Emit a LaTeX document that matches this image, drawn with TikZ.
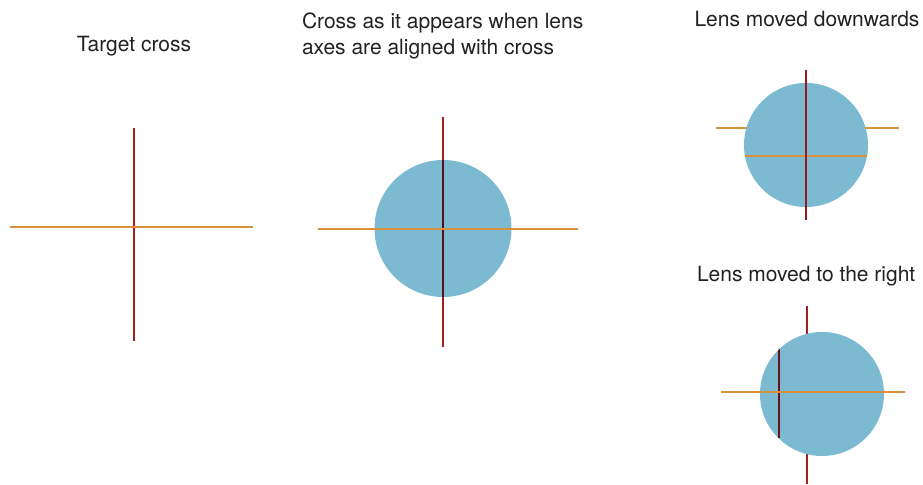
\documentclass[tikz,border=0pt]{standalone}
\usepackage{fontspec}
\setmainfont{TeX Gyre Heros}
\definecolor{lensblue}{HTML}{7BBAD1}
\definecolor{hairred}{HTML}{A51E22}
\definecolor{hairdark}{HTML}{5A1018}
\definecolor{hairorange}{HTML}{D9923A}
\definecolor{captiongray}{HTML}{222222}
\begin{document}
\begin{tikzpicture}[x=.5pt,y=-.5pt,line width=1pt,
  every node/.style={font=\fontsize{10.5}{13}\selectfont,text=captiongray,inner sep=0pt},
  vline/.style={draw=hairred},
  hline/.style={draw=hairorange},
  lens/.style={fill=lensblue}]
  \path[use as bounding box] (0,0) rectangle (923,485);
  % target cross
  \coordinate (T1) at (134,128);
  \coordinate (T2) at (134,341);
  \coordinate (T3) at (10,227);
  \coordinate (T4) at (253,227);
  \draw[vline] (T1)--(T2);
  \draw[hline] (T3)--(T4);
  \node[anchor=base] (ttarget) at (134,51.5) {Target cross};
  % aligned lens
  \coordinate (M) at (443,228.5);
  \coordinate (M1) at (443,117);
  \coordinate (M2) at (443,347);
  \coordinate (M3) at (318,229);
  \coordinate (M4) at (578,229);
  \draw[vline] (M1)--(M2);
  \fill[lens] (M) circle (68.5);
  \draw[draw=hairdark] (443,160)--(443,297);
  \draw[hline] (M3)--(M4);
  \node[anchor=base west,align=left] (taligned) at (301,55)
    {Cross as it appears when lens\\axes are aligned with cross};
  % lens moved downwards
  \coordinate (D) at (806,145);
  \coordinate (D1) at (806,70);
  \coordinate (D2) at (806,220);
  \coordinate (D3) at (716,128.5);
  \coordinate (D4) at (899,128.5);
  \draw[hline] (D3)--(D4);
  \fill[lens] (D) circle (62);
  \begin{scope}
    \clip (D) circle (62);
    \draw[hline] (740,156)--(872,156);
  \end{scope}
  \draw[vline,draw=hairred!90!black] (D1)--(D2);
  \node[anchor=base west] (tdown) at (693.5,26.5) {Lens moved downwards};
  % lens moved to the right
  \coordinate (R) at (822,394);
  \coordinate (R1) at (807,306);
  \coordinate (R2) at (807,484);
  \coordinate (R3) at (721,392.5);
  \coordinate (R4) at (905,392.5);
  \draw[vline] (R1)--(R2);
  \fill[lens] (R) circle (62);
  \begin{scope}
    \clip (R) circle (62);
    \draw[draw=hairdark!80!hairred] (779,349)--(779,438);
  \end{scope}
  \draw[hline] (R3)--(R4);
  \node[anchor=base west] (tright) at (696,282) {Lens moved to the right};
\end{tikzpicture}
\end{document}
